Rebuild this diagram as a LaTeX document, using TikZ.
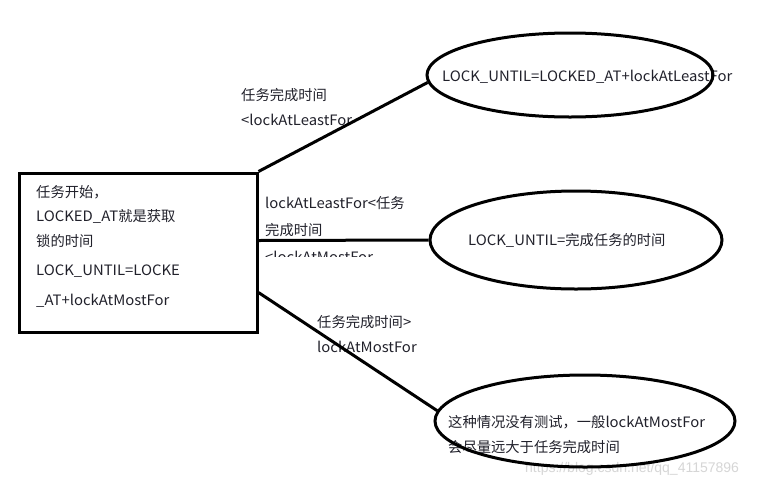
\documentclass[tikz,border=0pt]{standalone}
\usepackage{fontspec}
\setmainfont{Noto Sans CJK SC}
\newfontfamily\latf[FakeStretch=1.04]{Noto Sans CJK SC}
\newcommand\lt[1]{{\latf #1}}
\newfontfamily\wmfont{Liberation Sans}
\usetikzlibrary{shapes.geometric}
\definecolor{ink}{rgb}{0.13,0.13,0.17}
\definecolor{wm}{rgb}{0.84,0.84,0.84}
\tikzset{
  txt/.style={anchor=base west, inner sep=0pt, text=ink, font=\fontsize{14.3}{17}\selectfont},
  shapeline/.style={draw=black, line width=3pt},
  bubble/.style={shapeline, ellipse, inner sep=0pt},
  conn/.style={draw=black, line width=3pt}
}
\begin{document}
\begin{tikzpicture}[x=1pt,y=-1pt]
\useasboundingbox[fill=white] (0,0) rectangle (776,488);
% texts in box
\node[txt] (b1) at (36,197) {任务开始，};
\node[txt] (b2) at (36,221) {\lt{LOCKED\_AT}就是获取};
\node[txt] (b3) at (36,246) {锁的时间};
\node[txt] (b4) at (36,275) {\lt{LOCK\_UNTIL=LOCKE}};
\node[txt] (b5) at (36,305) {\lt{\_AT+lockAtMostFor}};
% connector labels
\node[txt] (l1a) at (241,100) {任务完成时间};
\node[txt] (l1b) at (241,125) {\lt{<lockAtLeastFor}};
\node[txt] (l2a) at (265,208) {\lt{lockAtLeastFor<}任务};
\node[txt] (l2b) at (265,235) {完成时间};
\begin{scope}
\clip (260,242) rectangle (420,256);
\node[txt] (l2c) at (265,262) {\lt{<lockAtMostFor}};
\end{scope}
\node[txt] (l3a) at (317,327) {任务完成时间\lt{>}};
\node[txt] (l3b) at (317,352) {\lt{lockAtMostFor}};
% ellipse texts
\node[txt] (t1) at (442,81) {\lt{LOCK\_UNTIL=LOCKED\_AT+lockAtLeastFor}};
\node[txt] (t2) at (468,245) {\lt{LOCK\_UNTIL=}完成任务的时间};
\node[txt] (t3a) at (448,427) {这种情况没有测试，一般\lt{lockAtMostFor}};
\node[txt] (t3b) at (448,452) {会尽量远大于任务完成时间};
% watermark
\node[anchor=base west, inner sep=0pt, text=wm, font=\wmfont\fontsize{14}{17}\selectfont] (wmk) at (525,472) {https://blog.csdn.net/qq\_41157896};
% shapes
\node[shapeline, rectangle, minimum width=238pt, minimum height=159pt, inner sep=0pt] (box) at (138,252.5) {};
\node[bubble, minimum width=286pt, minimum height=84pt] (e1) at (570,75) {};
\node[bubble, minimum width=292pt, minimum height=98pt] (e2) at (576,240) {};
\node[bubble, minimum width=300pt, minimum height=92pt] (e3) at (585,421) {};
% connectors
\draw[conn] (box.north east) -- (e1.183);
\draw[conn] ([yshift=12pt]box.east) -- (e2.west);
\draw[conn] ([yshift=-40pt]box.east) -- (e3.176);
\end{tikzpicture}
\end{document}
